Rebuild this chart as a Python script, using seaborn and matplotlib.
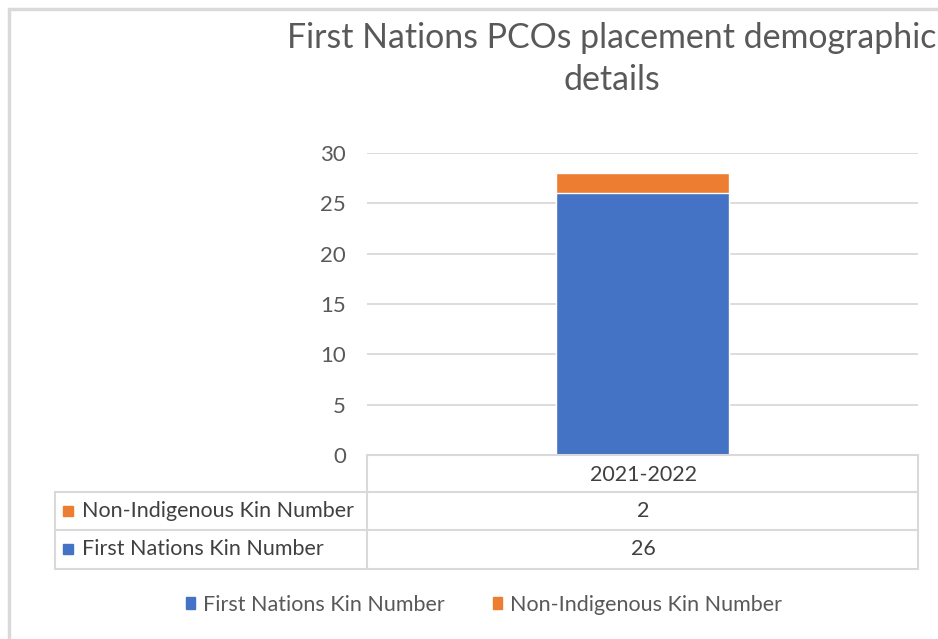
import matplotlib
matplotlib.use("Agg")
import matplotlib.pyplot as plt
import seaborn as sns
import pandas as pd
from matplotlib.lines import Line2D
from matplotlib.patches import Rectangle

periods = ["2021-2022"]
first_nations = [26]
non_indigenous = [2]
series_names = ["First Nations Kin Number", "Non-Indigenous Kin Number"]
colors = ["#4472C4", "#ED7D31"]
title = "First Nations PCOs placement demographic\ndetails"

sns.set_theme(style="white")
plt.rcParams['font.family'] = ['Lato', 'DejaVu Sans']

W, H = 938, 639
fig = plt.figure(figsize=(W / 100, H / 100), dpi=100)
fig.patch.set_facecolor("white")

def fx(px):
    return px / W

def fy(py):
    return 1 - py / H

# chart border
fig.add_artist(Rectangle((fx(9), fy(H + 5)), fx(W + 20), fy(9) - fy(H + 5),
                         transform=fig.transFigure, fill=False,
                         edgecolor="#d9d9d9", linewidth=2.5))

L, R, T, B = 367, 918, 153, 455
ax = fig.add_axes([fx(L), fy(B), fx(R - L), fy(T) - fy(B)])

df = pd.DataFrame({"period": periods,
                   "first": first_nations,
                   "non": non_indigenous})
df["total"] = df["first"] + df["non"]

sns.barplot(data=df, x="period", y="total", color=colors[1], width=0.314,
            saturation=1, ax=ax, zorder=3)
sns.barplot(data=df, x="period", y="first", color=colors[0], width=0.314,
            saturation=1, ax=ax, zorder=3)

ax.set_ylim(0, 30)
ax.set_yticks(range(0, 31, 5))
ax.set_xlim(-0.5, 0.5)
ax.grid(axis="y", color="#d9d9d9", linewidth=1.3, zorder=0)
for s in ax.spines.values():
    s.set_visible(False)
ax.set_xlabel("")
ax.set_ylabel("")
ax.set_xticks([])
ax.tick_params(axis="y", length=0, pad=15, labelsize=16, labelcolor="#595959")

# title
fig.text(fx(612), fy(59), title, ha="center", va="center", fontsize=24.4,
         color="#595959", linespacing=1.35)

# data table
lc = "#d9d9d9"
lw = 1.5
def hline(y, x0, x1):
    fig.add_artist(Line2D([fx(x0), fx(x1)], [fy(y), fy(y)],
                          transform=fig.transFigure, color=lc, linewidth=lw))

def vline(x, y0, y1):
    fig.add_artist(Line2D([fx(x), fx(x)], [fy(y0), fy(y1)],
                          transform=fig.transFigure, color=lc, linewidth=lw))

hline(B, L, R)
hline(492, 55, R)
hline(530, 55, R)
hline(569, 55, R)
vline(L, B, 569)
vline(R, B, 569)
vline(55, 492, 569)

fs = 15.5
fig.text(fx(643), fy(475), periods[0], ha="center", va="center",
         fontsize=fs, color="#404040")
rows = [(series_names[1], colors[1], non_indigenous[0], 511),
        (series_names[0], colors[0], first_nations[0], 549)]
for name, c, v, y in rows:
    fig.add_artist(Rectangle((fx(63), fy(y + 5)), fx(10), fy(y - 5) - fy(y + 5),
                             transform=fig.transFigure, color=c))
    fig.text(fx(82), fy(y), name, ha="left", va="center", fontsize=fs,
             color="#404040")
    fig.text(fx(643), fy(y), str(v), ha="center", va="center", fontsize=fs,
             color="#404040")

# legend
handles = [Rectangle((0, 0), 1, 1, color=colors[0]),
           Rectangle((0, 0), 1, 1, color=colors[1])]
leg = fig.legend(handles, series_names, loc="center",
                 bbox_to_anchor=(fx(484), fy(605)), ncol=2, frameon=False,
                 fontsize=fs, handlelength=0.46, handleheight=0.46,
                 handletextpad=0.37, columnspacing=2.2)
for t in leg.get_texts():
    t.set_color("#595959")

fig.savefig("out.png", dpi=100)
